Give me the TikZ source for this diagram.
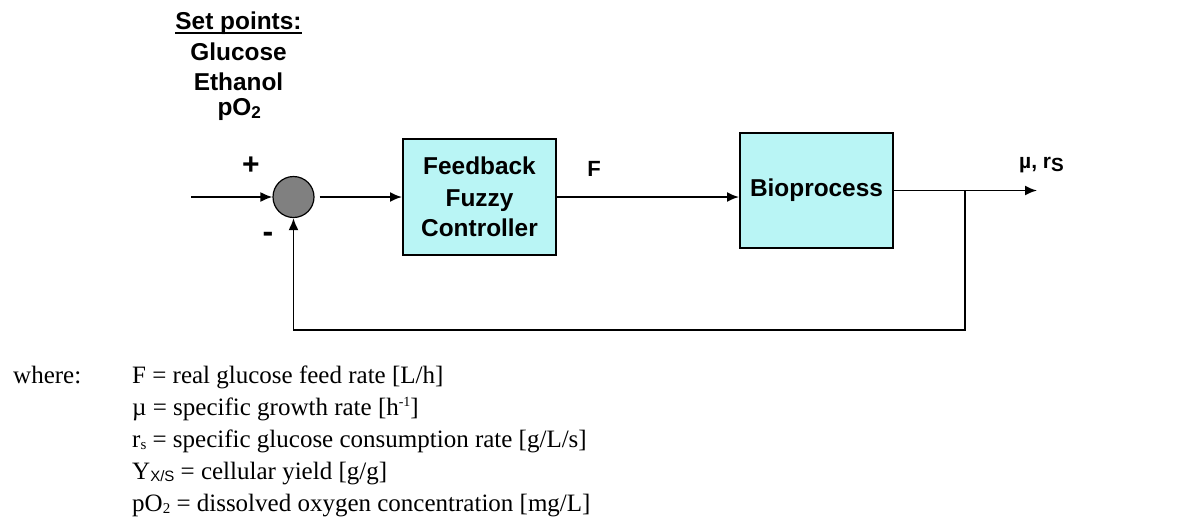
\documentclass[tikz,border=0pt]{standalone}
\usepackage{fontspec}
\newfontfamily\arial{Liberation Sans}
\newfontfamily\legserif{Liberation Serif}
\usetikzlibrary{arrows.meta}
\definecolor{blockfill}{RGB}{185,245,245}
\definecolor{sumfill}{RGB}{128,128,128}
% serif used for the list of symbols
\newcommand\legfont{\legserif\fontsize{25}{32}\selectfont}
\newcommand\legsub[1]{\raisebox{-2.5pt}{\fontsize{15}{15}\selectfont #1}}
\newcommand\legsup[1]{\raisebox{8.5pt}{\fontsize{14}{14}\selectfont #1}}

\begin{document}
\begin{tikzpicture}[x=1pt,y=-1pt,
  lbl/.style={font=\arial\bfseries\fontsize{24.4}{30}\selectfont, inner sep=0pt},
  blk/.style={draw, line width=2pt, fill=blockfill, inner sep=0pt,
              align=center, font=\arial\bfseries\fontsize{24.4}{30}\selectfont},
  wire/.style={line width=1.8pt},
  arr/.style={wire, -{Latex[length=12pt,width=10pt]}},
  leg/.style={font=\legfont, inner sep=0pt, anchor=base west}]
\path[use as bounding box] (0,0) rectangle (1194,517);

% set points
\node[lbl, anchor=base] (sp) at (238.5,29) {Set points:};
\draw[line width=2pt] ([yshift=-4pt]sp.base west) -- ([yshift=-4pt]sp.base east);
\node[lbl, anchor=base] (glc) at (238.5,60.5) {Glucose};
\node[lbl, anchor=base] (eth) at (238.5,90.5) {Ethanol};
\node[lbl, anchor=base] (po) at (239.5,115) {pO\textsubscript{2}};

% blocks
\node[draw, circle, fill=sumfill, line width=1.2pt, minimum size=41pt, inner sep=0pt] (sum) at (293.5,197) {};
\node[blk, minimum width=153pt, minimum height=116pt] (ffc) at (479.5,197)
  {\raisebox{2pt}{Feedback}\\Fuzzy\\Controller};
\node[blk, minimum width=153pt, minimum height=115pt] (bio) at (816.5,190.5) {Bioprocess};

% signs and signal labels
\node[lbl, font=\arial\bfseries\fontsize{30}{30}\selectfont] (plus) at (251,166) {+};
\node[lbl, font=\arial\bfseries\fontsize{32}{32}\selectfont] (minus) at (268,237) {-};
\node[lbl, font=\arial\bfseries\fontsize{22}{22}\selectfont] (flab) at (594,169) {F};
\node[lbl, font=\arial\bfseries\fontsize{21}{24}\selectfont, anchor=base west] (ylab) at (1019,168)
  {µ, r\raisebox{-3pt}{\fontsize{19}{19}\selectfont S}};

% connectors
\coordinate (in) at (191,197);
\coordinate (out) at (1037,190.5);
\coordinate (j) at (965,190.5);
\coordinate (fb) at (965,330);
\draw[arr] (in) -- (sum.west);
\draw[arr, shorten <=5pt] (sum.east) -- (ffc.west);
\draw[arr] (ffc.east) -- (ffc.east -| bio.west);
\draw[arr] (bio.east) -- (out);
\draw[arr] (j) -- (fb) -| (sum.south);

% list of symbols
\node[leg] (where) at (13,383) {where:};
\node[leg] (l1) at (132,383) {F = real glucose feed rate [L/h]};
\node[leg] (l2) at (132,415) {µ = specific growth rate [h\legsup{-1}]};
\node[leg] (l3) at (132,447) {r\legsub{s} = specific glucose consumption rate [g/L/s]};
\node[leg] (l4) at (132,479) {Y\raisebox{-2.5pt}{\arial\fontsize{15}{15}\selectfont X/S} = cellular yield [g/g]};
\node[leg] (l5) at (132,511) {pO\legsub{2} = dissolved oxygen concentration [mg/L]};
\end{tikzpicture}
\end{document}
